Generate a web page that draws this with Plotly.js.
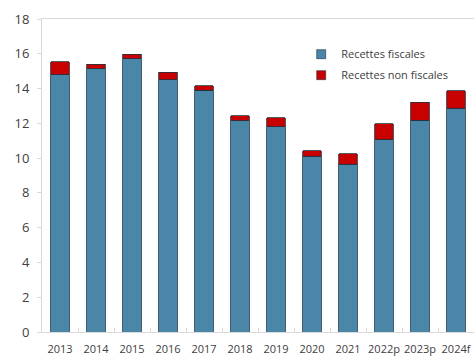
<!DOCTYPE html>
<html>
<head>
<meta charset="utf-8">
<script src="https://cdn.plot.ly/plotly-3.0.1.min.js"></script>
<style>
  html, body { margin: 0; padding: 0; background: #fff; }
  #chart { width: 476px; height: 357px; }
</style>
</head>
<body>
<div id="chart"></div>
<script>
// Yearly revenue split: tax vs non-tax receipts
const years = ['2013', '2014', '2015', '2016', '2017', '2018', '2019', '2020', '2021', '2022p', '2023p', '2024f'];
const recettesFiscales = [14.8, 15.15, 15.7, 14.5, 13.9, 12.15, 11.8, 10.12, 9.66, 11.05, 12.17, 12.88];
const recettesNonFiscales = [0.75, 0.25, 0.28, 0.45, 0.25, 0.3, 0.52, 0.3, 0.6, 0.92, 1.05, 1.0];
const yTicks = [0, 2, 4, 6, 8, 10, 12, 14, 16, 18];

const seriesNames = ['Recettes fiscales', 'Recettes non fiscales'];
const seriesColors = ['#4a86a8', '#c90000'];
const outline = { color: '#1f3340', width: 0.8 };

const traces = [
  {
    type: 'bar', name: seriesNames[0], x: years, y: recettesFiscales,
    marker: { color: seriesColors[0], line: outline }, showlegend: false
  },
  {
    type: 'bar', name: seriesNames[1], x: years, y: recettesNonFiscales,
    marker: { color: seriesColors[1], line: outline }, showlegend: false
  }
];

// small square legend keys
seriesNames.forEach((name, i) => {
  traces.push({
    type: 'scatter', mode: 'markers', name: name, x: [null], y: [null],
    legendgroup: 'g' + i,
    marker: { symbol: 'square', size: 9, color: seriesColors[i], line: { color: '#1f3340', width: 0.6 } }
  });
});

const layout = {
  width: 476, height: 357,
  margin: { l: 42, r: 2, t: 19, b: 25 },
  paper_bgcolor: '#ffffff', plot_bgcolor: '#ffffff',
  barmode: 'stack', bargap: 0.49,
  font: { family: '"Open Sans", "Noto Sans", sans-serif', color: '#404040', size: 11 },
  showlegend: true,
  legend: {
    x: 0.60, y: 0.934, xanchor: 'left', yanchor: 'top',
    bgcolor: 'rgba(255,255,255,0)', traceorder: 'grouped',
    font: { size: 11, color: '#404040' },
    itemwidth: 30, tracegroupgap: 2
  },
  xaxis: {
    type: 'category', categoryarray: years,
    showline: true, linecolor: '#d9d9d9', linewidth: 1, mirror: true,
    ticks: 'inside', tickson: 'boundaries', ticklen: 4, tickcolor: '#d9d9d9',
    tickangle: 0, ticklabelstandoff: 7,
    tickfont: { size: 11, color: '#404040' },
    showgrid: false, zeroline: false, fixedrange: true
  },
  yaxis: {
    range: [0, 18], tickvals: yTicks, ticktext: yTicks.map(String),
    showline: true, linecolor: '#d9d9d9', linewidth: 1,
    ticks: 'outside', ticklen: 4, tickcolor: '#d9d9d9',
    ticklabelstandoff: 5,
    tickfont: { size: 13, color: '#404040' },
    showgrid: false, zeroline: false, fixedrange: true
  }
};

Plotly.newPlot('chart', traces, layout, { staticPlot: true, displayModeBar: false });
</script>
</body>
</html>
